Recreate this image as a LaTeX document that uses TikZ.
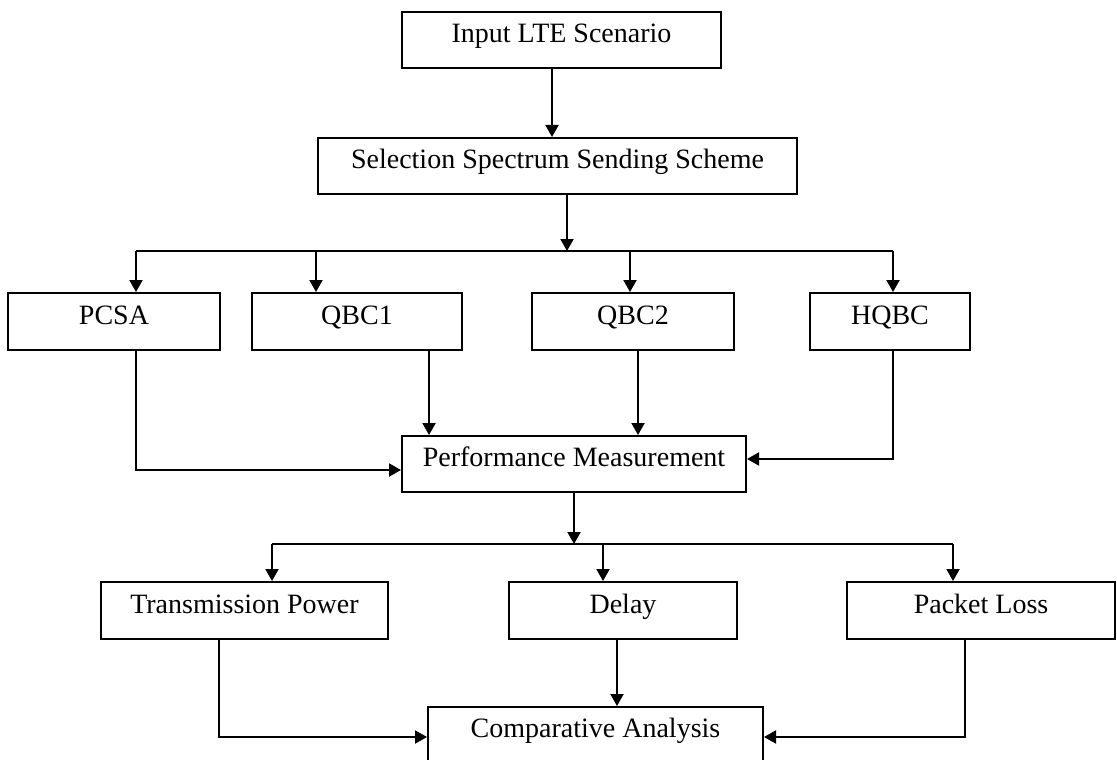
\documentclass[tikz,border=0pt]{standalone}
\usepackage{fontspec}
\setmainfont{Liberation Serif}
\usetikzlibrary{arrows.meta}
\begin{document}
\begin{tikzpicture}[x=0.5pt,y=-0.5pt,
  box/.style={draw=black, line width=1pt, fill=white, inner sep=0pt,
    font=\fontsize{14}{16}\selectfont, text height=0.68em, text depth=0.43em},
  conn/.style={draw=black, line width=1pt},
  arr/.style={conn, -{Triangle[length=6pt,width=6.5pt]}}]
\useasboundingbox (0,0) rectangle (1117,759);
\fill[white] (0,0) rectangle (1117,759);
% nodes
\node[box, minimum width=159.5pt, minimum height=28pt] (in) at (561.5,40) {Input LTE Scenario};
\node[box, minimum width=239.5pt, minimum height=28pt] (sel) at (557.5,166) {Selection Spectrum Sending Scheme};
\node[box, minimum width=106pt, minimum height=28.5pt] (pcsa) at (114,321.5) {PCSA};
\node[box, minimum width=105pt, minimum height=28.5pt] (qbc1) at (357,321.5) {QBC1};
\node[box, minimum width=101pt, minimum height=28.5pt] (qbc2) at (633,321.5) {QBC2};
\node[box, minimum width=80pt, minimum height=28.5pt] (hqbc) at (890,321.5) {HQBC};
\node[box, minimum width=172pt, minimum height=28pt] (perf) at (574,464) {Performance Measurement};
\node[box, minimum width=143.5pt, minimum height=28.5pt] (tp) at (244.5,610.5) {Transmission Power};
\node[box, minimum width=114pt, minimum height=28.5pt] (delay) at (623,610.5) {Delay};
\node[box, minimum width=134pt, minimum height=28.5pt] (pl) at (981,610.5) {Packet Loss};
\node[box, minimum width=167.5pt, minimum height=28pt] (ca) at (595.5,735) {Comparative Analysis};
% helper coordinates
\coordinate (c1) at (552,0);
\coordinate (j1) at (567,251);
\coordinate (b1) at (136,251);
\coordinate (b2) at (316,251);
\coordinate (b3) at (630,251);
\coordinate (b4) at (893,251);
\coordinate (p1) at (136,470);
\coordinate (q1) at (429,0);
\coordinate (q2) at (638,0);
\coordinate (h1) at (893,459);
\coordinate (j2) at (574,544);
\coordinate (d1) at (272,544);
\coordinate (d2) at (603,544);
\coordinate (d3) at (953,544);
\coordinate (t1) at (219,737);
\coordinate (e1) at (617,0);
\coordinate (l1) at (965,737);
% connectors
\draw[arr] (in.south -| c1) -- (sel.north -| c1);
\draw[arr] (sel.south -| j1) -- (j1);
\draw[conn] (b1) -- (b4);
\draw[arr] (b1) -- (b1 |- pcsa.north);
\draw[arr] (b2) -- (b2 |- qbc1.north);
\draw[arr] (b3) -- (b3 |- qbc2.north);
\draw[arr] (b4) -- (b4 |- hqbc.north);
\draw[arr] (p1 |- pcsa.south) -- (p1) -- (p1 -| perf.west);
\draw[arr] (q1 |- qbc1.south) -- (q1 |- perf.north);
\draw[arr] (q2 |- qbc2.south) -- (q2 |- perf.north);
\draw[arr] (h1 |- hqbc.south) -- (h1) -- (h1 -| perf.east);
\draw[arr] (perf.south -| j2) -- (j2);
\draw[conn] (d1) -- (d3);
\draw[arr] (d1) -- (d1 |- tp.north);
\draw[arr] (d2) -- (d2 |- delay.north);
\draw[arr] (d3) -- (d3 |- pl.north);
\draw[arr] (t1 |- tp.south) -- (t1) -- (t1 -| ca.west);
\draw[arr] (e1 |- delay.south) -- (e1 |- ca.north);
\draw[arr] (l1 |- pl.south) -- (l1) -- (l1 -| ca.east);
\end{tikzpicture}
\end{document}
